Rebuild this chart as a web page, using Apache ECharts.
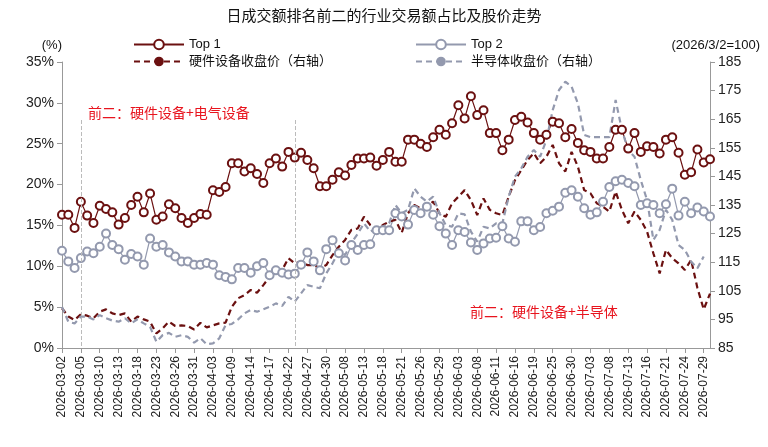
<!DOCTYPE html>
<html>
<head>
<meta charset="utf-8">
<script src="https://cdn.jsdelivr.net/npm/echarts@6/dist/echarts.min.js"></script>
<style>html,body{margin:0;padding:0;background:#fff}#main{width:768px;height:447px}</style>
</head>
<body>
<div id="main"></div>
<script>
// trading days 2026-03-02 .. 2026-07-30
var holidays = ['2026-04-06', '2026-05-01', '2026-05-04', '2026-05-05', '2026-06-22'];
var dates = [];
(function () {
    var d = new Date(Date.UTC(2026, 2, 2));
    var end = new Date(Date.UTC(2026, 6, 30));
    while (d <= end) {
        var s = d.toISOString().slice(0, 10);
        var w = d.getUTCDay();
        if (w !== 0 && w !== 6 && holidays.indexOf(s) < 0) dates.push(s);
        d.setUTCDate(d.getUTCDate() + 1);
    }
})();

var top1 = [16.3, 16.3, 14.7, 17.9, 16.2, 15.3, 17.4, 17.0, 16.6, 15.1, 15.9, 17.5, 18.5, 16.6, 18.9, 15.7, 16.1, 17.6, 17.1, 15.9, 15.3, 15.9, 16.4, 16.3, 19.3, 19.1,
    19.7, 22.6, 22.6, 21.6, 22.0, 21.3, 20.2, 22.6, 23.2, 22.2, 24.0, 23.3, 23.9, 23.0, 22.0, 19.8, 19.8, 20.6, 21.5, 21.1, 22.4, 23.2, 23.2, 23.3, 22.3,
    23.0, 24.0, 22.8, 22.8, 25.5, 25.5, 25.0, 24.6, 25.8, 26.7, 26.1, 27.5, 29.7, 28.1, 30.8, 28.5, 29.1, 26.3, 26.3, 24.2, 25.5, 27.9, 28.3, 27.6, 26.3, 25.5,
    26.1, 27.7, 27.5, 25.8, 26.8, 25.1, 24.2, 24.0, 23.2, 23.2, 24.6, 26.7, 26.7, 24.4, 26.3, 24.0, 24.7, 24.6, 23.8, 25.5, 25.8, 23.9, 21.2, 21.5, 24.3, 22.7, 23.1];
var top2 = [11.9, 10.6, 9.8, 11.0, 11.8, 11.6, 12.4, 14.0, 12.6, 12.1, 10.8, 11.5, 11.2, 10.2, 13.4, 12.4, 12.6, 11.7, 11.2, 10.6, 10.6, 10.2, 10.2, 10.4, 10.2, 8.9,
    8.7, 8.4, 9.8, 9.8, 9.2, 10.0, 10.4, 8.9, 9.5, 9.2, 9.0, 9.1, 10.2, 11.7, 10.6, 9.5, 12.1, 13.2, 11.6, 10.7, 12.6, 12.0, 12.6, 12.7, 14.4,
    14.4, 14.4, 16.5, 16.1, 15.1, 16.9, 16.5, 17.3, 16.3, 14.9, 14.0, 12.6, 14.4, 14.2, 12.9, 12.0, 12.8, 13.4, 13.5, 14.9, 13.4, 13.0, 15.5, 15.5, 14.4, 14.8,
    16.5, 16.8, 17.3, 19.0, 19.3, 18.5, 17.1, 16.3, 16.6, 17.9, 19.7, 20.4, 20.6, 20.2, 19.8, 17.5, 17.7, 17.5, 16.5, 17.6, 19.5, 16.2, 17.9, 16.5, 17.2, 16.7, 16.1];
var hardware = [98.9, 96.0, 94.8, 96.8, 96.3, 95.4, 97.7, 98.5, 97.1, 96.5, 97.1, 94.2, 96.0, 95.0, 94.2, 90.1, 91.9, 94.2, 92.7, 92.9, 92.7, 91.5, 93.8, 92.2, 92.9, 93.6,
    93.9, 99.4, 102.4, 103.5, 105.3, 104.3, 107.0, 109.9, 111.3, 112.3, 116.4, 114.6, 115.2, 114.0, 114.0, 112.9, 114.0, 117.5, 120.4, 122.8, 126.3, 126.8, 130.9, 128.0, 126.3,
    128.0, 129.2, 129.8, 125.3, 132.1, 135.0, 133.8, 134.4, 136.2, 132.1, 130.9, 135.6, 137.9, 140.2, 136.7, 131.5, 137.3, 133.3, 132.1, 131.5, 137.9, 143.7, 147.2, 150.7, 153.1, 149.6,
    151.9, 156.0, 149.6, 146.7, 153.6, 148.4, 140.2, 139.1, 135.6, 134.4, 132.7, 139.7, 133.3, 128.6, 132.7, 129.8, 125.7, 118.1, 111.1, 119.3, 116.4, 114.6, 112.3, 115.8, 106.0, 98.5, 104.0];
var semis = [99.4, 94.2, 93.6, 96.0, 96.0, 95.0, 96.5, 95.4, 94.6, 94.2, 95.4, 93.6, 95.0, 93.6, 92.4, 87.2, 89.5, 90.3, 88.9, 89.5, 88.9, 86.9, 88.4, 86.3, 86.6, 88.4,
    93.0, 93.4, 95.0, 97.1, 98.3, 97.7, 98.5, 99.4, 100.6, 99.7, 102.9, 101.2, 104.1, 107.0, 106.4, 105.9, 111.1, 114.6, 118.7, 117.5, 121.8, 124.9, 128.6, 125.7, 126.8,
    127.4, 128.6, 135.0, 132.1, 133.3, 140.8, 137.9, 136.2, 137.9, 132.1, 128.0, 127.4, 132.1, 131.7, 125.7, 122.2, 127.4, 126.8, 128.6, 128.6, 137.9, 144.9, 147.8, 151.9, 154.2, 151.9,
    157.7, 168.2, 175.2, 178.1, 176.4, 170.5, 159.5, 158.7, 158.7, 158.7, 158.7, 171.7, 161.2, 154.2, 151.9, 143.7, 136.7, 122.8, 126.3, 133.3, 129.8, 121.0, 119.3, 115.2, 112.9, 117.0];

var names = ['Top 1', 'Top 2', '硬件设备收盘价（右轴）', '半导体收盘价（右轴）'];
var red = '#6B1010', grey = '#9399AE';
var font = 'Liberation Sans, Noto Sans CJK SC, sans-serif';

var myChart = echarts.init(document.getElementById('main'), null, { renderer: 'canvas' });

var option = {
    backgroundColor: '#fff',
    animation: false,
    textStyle: { fontFamily: font },
    title: {
        text: '日成交额排名前二的行业交易额占比及股价走势',
        left: 'center', top: 4,
        textStyle: { fontSize: 15, fontWeight: 'normal', color: '#111', fontFamily: font }
    },
    legend: [{
        data: [names[0], names[2]], orient: 'vertical', left: 128, top: 33, itemGap: 4,
        itemWidth: 50, itemHeight: 12, textStyle: { fontSize: 13, color: '#111' }
    }, {
        data: [names[1], names[3]], orient: 'vertical', left: 410, top: 33, itemGap: 4,
        itemWidth: 50, itemHeight: 12, textStyle: { fontSize: 13, color: '#111' }
    }],
    grid: { left: 62, right: 58, top: 62, bottom: 99 },
    xAxis: {
        type: 'category', data: dates, boundaryGap: false,
        axisLine: { lineStyle: { color: '#999' } },
        axisTick: { interval: 2, alignWithLabel: true, lineStyle: { color: '#999' } },
        axisLabel: { interval: 2, rotate: 90, fontSize: 12, color: '#222' }
    },
    yAxis: [{
        type: 'value', min: 0, max: 35, interval: 5, name: '(%)',
        nameGap: 10, nameTextStyle: { fontSize: 13, color: '#111', align: 'right' },
        splitLine: { show: false },
        axisLine: { show: true, lineStyle: { color: '#999' } },
        axisTick: { show: true, lineStyle: { color: '#999' } },
        axisLabel: { formatter: '{value}%', fontSize: 14, color: '#222' }
    }, {
        type: 'value', min: 85, max: 185, interval: 10, name: '(2026/3/2=100)',
        nameGap: 10, nameTextStyle: { fontSize: 13, color: '#111', align: 'right', padding: [0, -50, 0, 0] },
        splitLine: { show: false },
        axisLine: { show: true, lineStyle: { color: '#999' } },
        axisTick: { show: true, lineStyle: { color: '#999' } },
        axisLabel: { fontSize: 14, color: '#222' }
    }],
    series: [{
        name: names[0], type: 'line', data: top1,
        symbol: 'emptyCircle', symbolSize: 8, showAllSymbol: true,
        lineStyle: { color: red, width: 1.2 },
        itemStyle: { color: red, borderColor: red, borderWidth: 2 },
        markLine: {
            silent: true, symbol: 'none', label: { show: false },
            lineStyle: { color: '#bbb', type: 'dashed', width: 1 },
            data: [
                [{ xAxis: 3, y: 120 }, { xAxis: 3, y: 348 }],
                [{ xAxis: 37, y: 120 }, { xAxis: 37, y: 348 }]
            ]
        }
    }, {
        name: names[1], type: 'line', data: top2,
        symbol: 'emptyCircle', symbolSize: 8, showAllSymbol: true,
        lineStyle: { color: grey, width: 1.2 },
        itemStyle: { color: grey, borderColor: grey, borderWidth: 2 }
    }, {
        name: names[2], type: 'line', yAxisIndex: 1, data: hardware,
        symbol: 'none', lineStyle: { color: red, width: 2.2, type: [6, 4] },
        itemStyle: { color: red }
    }, {
        name: names[3], type: 'line', yAxisIndex: 1, data: semis,
        symbol: 'none', lineStyle: { color: grey, width: 2.2, type: [6, 4] },
        itemStyle: { color: grey }
    }],
    graphic: [{
        type: 'text', left: 88, top: 106,
        style: { text: '前二：硬件设备+电气设备', fill: '#E8141E', font: '14px Noto Sans CJK SC' }
    }, {
        type: 'text', left: 470, top: 305,
        style: { text: '前二：硬件设备+半导体', fill: '#E8141E', font: '14px Noto Sans CJK SC' }
    }]
};

myChart.setOption(option);
window.addEventListener('resize', myChart.resize);
</script>
</body>
</html>
